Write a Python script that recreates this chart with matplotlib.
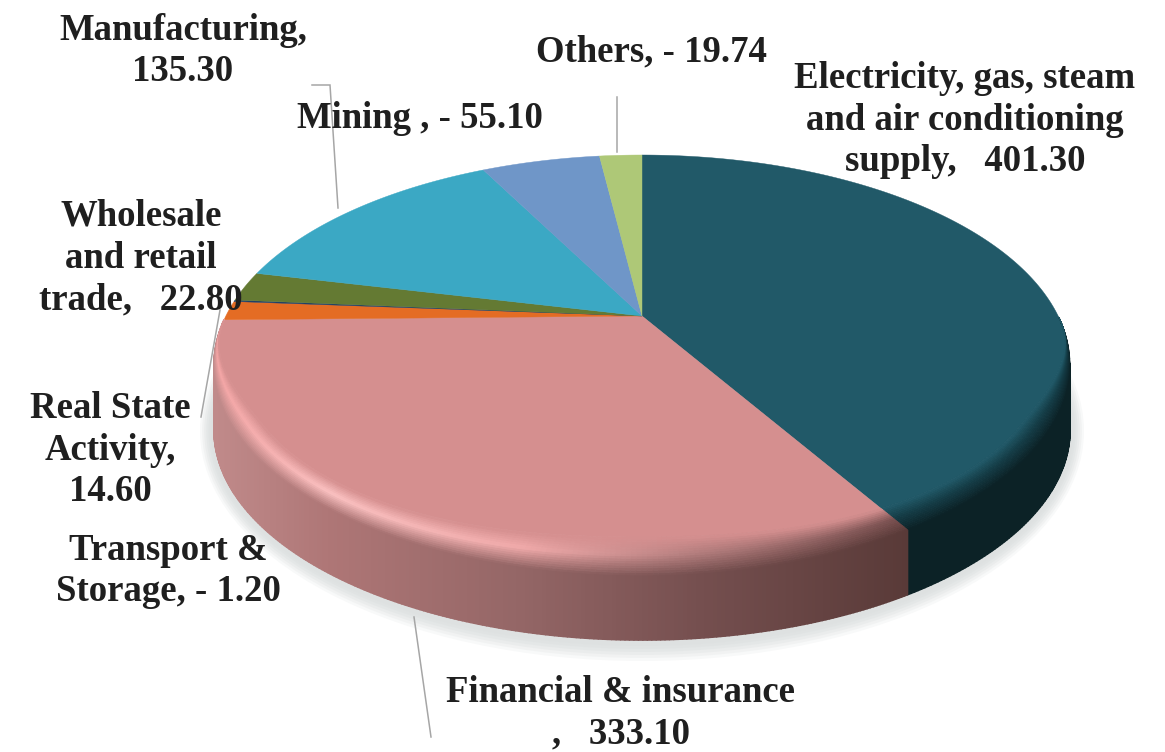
import numpy as np
import matplotlib
matplotlib.use("Agg")
import matplotlib.pyplot as plt
from matplotlib.collections import PolyCollection
from matplotlib.colors import to_rgb
from matplotlib.patches import Polygon, Ellipse

# ---- data (clockwise from 12 o'clock)
categories = ["Electricity, gas, steam and air conditioning supply", "Financial & insurance",
              "Real State Activity", "Transport & Storage", "Wholesale and retail trade",
              "Manufacturing", "Mining", "Others"]
values = [401.30, 333.10, 14.60, 1.20, 22.80, 135.30, 55.10, 19.74]
colors = ["#215968", "#d58f8f", "#e46c24", "#1f3f66", "#647a33", "#3ba8c4", "#6f96c8", "#aec877"]
labels = ["Electricity, gas, steam\nand air conditioning\nsupply,   401.30",
          "Financial & insurance\n,   333.10",
          "Real State\nActivity,\n14.60",
          "Transport &\nStorage, - 1.20",
          "Wholesale\nand retail\ntrade,   22.80",
          "Manufacturing,\n135.30",
          "Mining , - 55.10",
          "Others, - 19.74"]
label_pos = [(965, 120), (621, 713), (110, 450), (168, 571), (141, 258), (183, 51), (420, 118), (651, 52)]
leaders = [[(312, 85), (330, 85), (338, 208)], [(617, 97), (617, 152)],
           [(201, 417), (220, 310)], [(414, 617), (431, 737)]]

# ---- geometry of the tilted disc, in pixels
W, H = 1165, 752
CX, CY, RX, RY = 642.0, 365.0, 428.0, 210.0
APEX = 49.0
DEPTH = 65.0
K = APEX / RY
BX, BY = 26.0, 38.0

def persp(theta):
    """True pie angle (clockwise from top) to angle on the projected ellipse."""
    c, s = np.cos(theta), np.sin(theta)
    d = 1 + K * c
    t = np.unwrap(np.arctan2(s * np.sqrt(1 - K * K) / d, (c + K) / d) % (2 * np.pi))
    # small extra foreshortening of the right-hand front
    return t + np.radians(6.7) * np.sin(t) ** 2 * (t < np.pi)

def ring(t, s=0.0):
    """Point on the rim (s=0) or moved s of the bevel width towards the apex (s=1)."""
    x, y = CX + RX * np.sin(t), CY - RY * np.cos(t)
    u = np.clip((-np.cos(t) + 0.217) / 0.55, 0, 1)
    w = u * u * (3 - 2 * u)
    length = w * np.hypot(BX * np.sin(t), BY * np.cos(t))
    dx, dy = CX - x, CY - APEX - y
    dist = np.hypot(dx, dy)
    return x + s * length * dx / dist, y + s * length * dy / dist

def mix(xs, cols, x):
    arr = np.array([to_rgb(c) for c in cols])
    return np.array([np.interp(x, xs, arr[:, i]) for i in range(3)]).T

fig = plt.figure(figsize=(W / 100, H / 100), dpi=100)
ax = fig.add_axes([0, 0, 1, 1])
ax.set_xlim(0, W)
ax.set_ylim(H, 0)
ax.axis("off")

# soft shadow
for grow, a in zip([40, 34, 28, 22, 16, 10], [0.20, 0.25, 0.32, 0.40, 0.50, 0.60]):
    ax.add_patch(Ellipse((CX, CY + DEPTH + 1), 2 * RX + grow * 0.7, 2 * RY + grow,
                         fc="#dde1e1", ec="none", alpha=a, zorder=1))

fractions = np.array(values) / np.sum(values)
edges = np.concatenate([[0], np.cumsum(fractions)]) * 2 * np.pi

side_x = [215, 330, 520, 700, 907]
side_c = ["#c08a8a", "#ae7676", "#946666", "#754f4f", "#593a38"]
glow_c = ["#f5a6a6", "#fcc2c2", "#f2abab", "#b27c7c", "#7a5050"]
GLOW_AT = 0.55

def side_colour(i, x):
    if i == 1:
        return mix(side_x, side_c, x)
    return np.tile(to_rgb("#0c2226"), (len(np.atleast_1d(x)), 1))

def glow_colour(i, x):
    if i == 1:
        return mix(side_x, glow_c, x)
    return np.tile(to_rgb("#143c46"), (len(np.atleast_1d(x)), 1))

# side wall of the two slices that reach the front
S_STEPS = np.linspace(0, 1, 17)
for i in (0, 1):
    t = persp(np.linspace(edges[i], edges[i + 1], 260))
    x0, y0 = ring(t)
    mid = (x0[:-1] + x0[1:]) / 2
    vis = (t[:-1] > np.pi / 2) | (t[1:] > np.pi / 2)
    quads = [[(x0[j], y0[j]), (x0[j + 1], y0[j + 1]), (x0[j + 1], y0[j + 1] + DEPTH), (x0[j], y0[j] + DEPTH)]
             for j in range(len(t) - 1) if vis[j]]
    cols = side_colour(i, mid[vis])
    ax.add_collection(PolyCollection(quads, facecolors=cols, edgecolors=cols, linewidths=1.2, zorder=2))

# flat tops: sector from the projected centre to the rim
for i, col in enumerate(colors):
    t = persp(np.linspace(edges[i], edges[i + 1], 200))
    xi, yi = ring(t, 1.0)
    pts = np.vstack([[CX, CY - APEX], np.column_stack([xi, yi])])
    ax.add_patch(Polygon(pts, closed=True, fc=col, ec=col, lw=0.3, zorder=3))

# bevel between top and wall
for i in (0, 1):
    t = persp(np.linspace(edges[i], edges[i + 1], 200))
    face = np.array(to_rgb(colors[i]))
    quads, cols = [], []
    for a, b in zip(S_STEPS[:-1], S_STEPS[1:]):
        xa, ya = ring(t, a)
        xb, yb = ring(t, b)
        mid = (xa[:-1] + xa[1:]) / 2
        sm = (a + b) / 2
        side = side_colour(i, mid)
        glow = glow_colour(i, mid)
        if sm < GLOW_AT:
            c = side + (glow - side) * (sm / GLOW_AT)
        else:
            c = glow + (face - glow) * ((sm - GLOW_AT) / (1 - GLOW_AT))
        for j in range(len(t) - 1):
            if max(ya[j], ya[j + 1]) > CY - 46:
                quads.append([(xa[j], ya[j]), (xa[j + 1], ya[j + 1]), (xb[j + 1], yb[j + 1]), (xb[j], yb[j])])
                cols.append(c[j])
    ax.add_collection(PolyCollection(quads, facecolors=cols, edgecolors=cols, linewidths=0.6, zorder=4))

# leader lines
for pts in leaders:
    xs, ys = zip(*pts)
    ax.plot(xs, ys, color="#a6a6a6", lw=1.1, zorder=5, solid_joinstyle="miter")

# labels
for (x, y), s in zip(label_pos, labels):
    ax.text(x, y, s, ha="center", va="center", multialignment="center", fontsize=26.5,
            family="Liberation Serif", weight="bold", color="#1f1f1f", linespacing=1.25, zorder=6)

fig.savefig("out.png", dpi=100, facecolor="white")
